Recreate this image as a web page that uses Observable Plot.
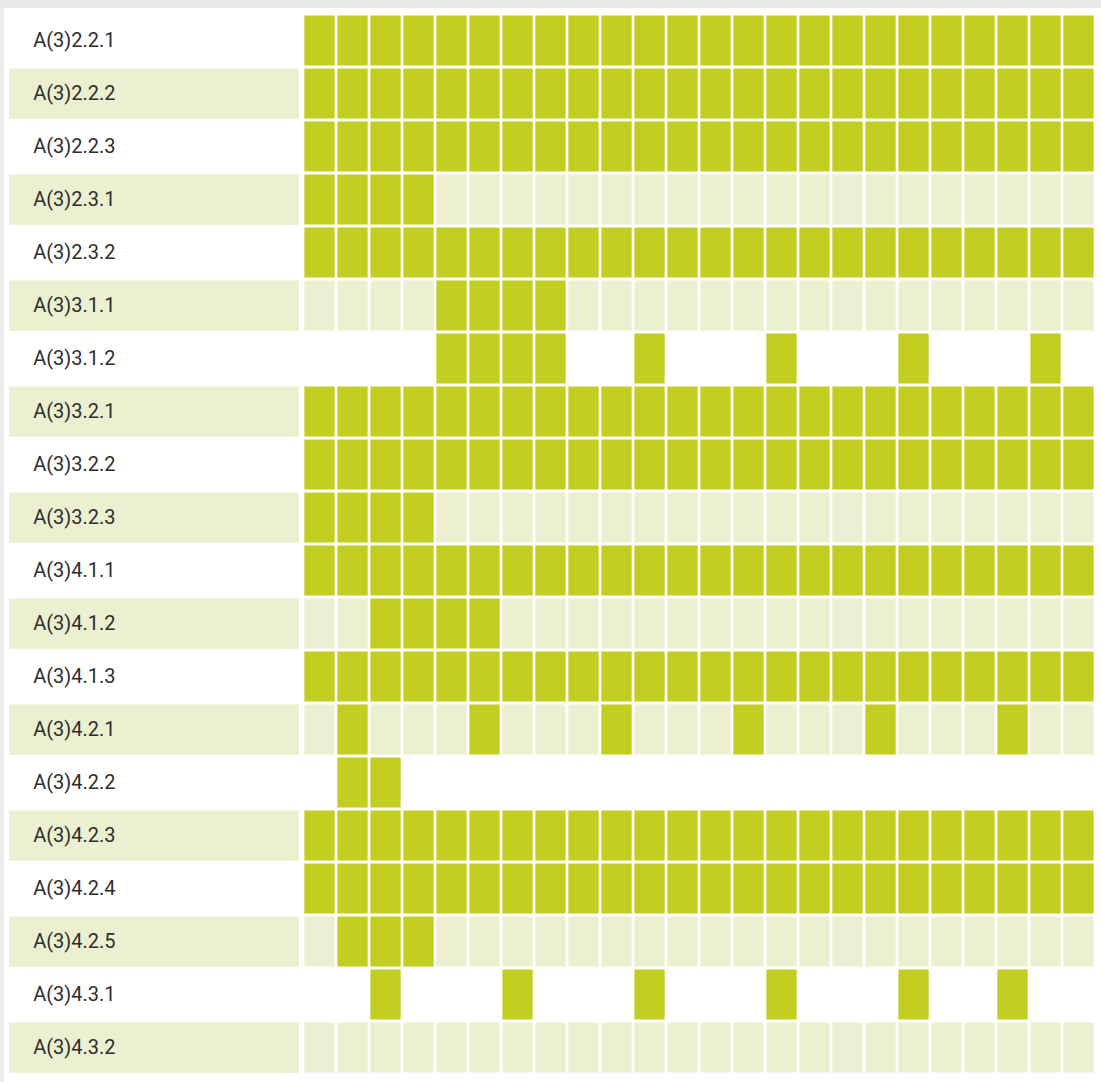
<!DOCTYPE html>
<html>
<head>
<meta charset="utf-8">
<script src="https://cdn.jsdelivr.net/npm/d3@7"></script>
<script src="https://cdn.jsdelivr.net/npm/@observablehq/plot@0.6"></script>
<style>
  html, body { margin: 0; padding: 0; }
  body {
    width: 1101px; height: 1082px; overflow: hidden;
    background:
      linear-gradient(#e9e9e9, #e9e9e9) top left / 100% 8px no-repeat,
      linear-gradient(#ececec, #ececec) top left / 4px 100% no-repeat,
      #ffffff;
  }
  #chart { position: absolute; left: 0; top: 0; }
</style>
</head>
<body>
<div id="chart"></div>
<script>
// Row labels (top to bottom)
const rowLabels = [
  "A(3)2.2.1", "A(3)2.2.2", "A(3)2.2.3", "A(3)2.3.1", "A(3)2.3.2",
  "A(3)3.1.1", "A(3)3.1.2", "A(3)3.2.1", "A(3)3.2.2", "A(3)3.2.3",
  "A(3)4.1.1", "A(3)4.1.2", "A(3)4.1.3", "A(3)4.2.1", "A(3)4.2.2",
  "A(3)4.2.3", "A(3)4.2.4", "A(3)4.2.5", "A(3)4.3.1", "A(3)4.3.2"
];

// Column categories (24 periods)
const columns = [1,2,3,4,5,6,7,8,9,10,11,12,13,14,15,16,17,18,19,20,21,22,23,24];

// Filled pattern per row (1 = filled, 0 = empty), one character per column
const patterns = [
  "111111111111111111111111",
  "111111111111111111111111",
  "111111111111111111111111",
  "111100000000000000000000",
  "111111111111111111111111",
  "000011110000000000000000",
  "000011110010001000100010",
  "111111111111111111111111",
  "111111111111111111111111",
  "111100000000000000000000",
  "111111111111111111111111",
  "001111000000000000000000",
  "111111111111111111111111",
  "010001000100010001000100",
  "011000000000000000000000",
  "111111111111111111111111",
  "111111111111111111111111",
  "011100000000000000000000",
  "001000100010001000100100",
  "000000000000000000000000"
];

const GREEN = "#c3ce22";
const LIGHT = "#ecf0d1";
const TEXT = "#2e2e2e";

const cells = rowLabels.flatMap((label, i) =>
  patterns[i].split("").map((c, j) => ({
    row: label,
    col: columns[j],
    color: c === "1" ? GREEN : (i % 2 === 1 ? LIGHT : "none")
  }))
);

const shadedRows = rowLabels.filter((d, i) => i % 2 === 1);

// Light band behind the label column on alternate rows
function labelBands(index, scales, values, dimensions) {
  const g = d3.create("svg:g");
  const bw = (dimensions.height - dimensions.marginTop - dimensions.marginBottom) / rowLabels.length;
  for (const label of shadedRows) {
    g.append("rect")
      .attr("x", 9)
      .attr("y", scales.y(label) + 1.5)
      .attr("width", dimensions.marginLeft - 9 - 1.65)
      .attr("height", bw - 3)
      .attr("fill", LIGHT);
  }
  return g.node();
}

const chart = Plot.plot({
  width: 1101,
  height: 1082,
  marginLeft: 300.65,
  marginRight: 4,
  marginTop: 10.5,
  marginBottom: 4.8,
  style: { background: "transparent", overflow: "visible" },
  x: { type: "band", domain: columns, padding: 0, axis: null },
  y: { type: "band", domain: rowLabels, padding: 0, axis: null },
  color: { type: "identity" },
  marks: [
    labelBands,
    Plot.cell(cells.filter(d => d.color !== "none"), {
      x: "col", y: "row", fill: "color",
      insetLeft: 1.35, insetRight: 1.35, insetTop: 1.5, insetBottom: 1.5
    }),
    Plot.text(rowLabels, {
      y: d => d, text: d => d,
      frameAnchor: "left", textAnchor: "start", dx: -268,
      fontSize: 20, fontFamily: "Roboto, 'Noto Sans', sans-serif",
      fill: TEXT
    })
  ]
});

document.getElementById("chart").appendChild(chart);
</script>
</body>
</html>
